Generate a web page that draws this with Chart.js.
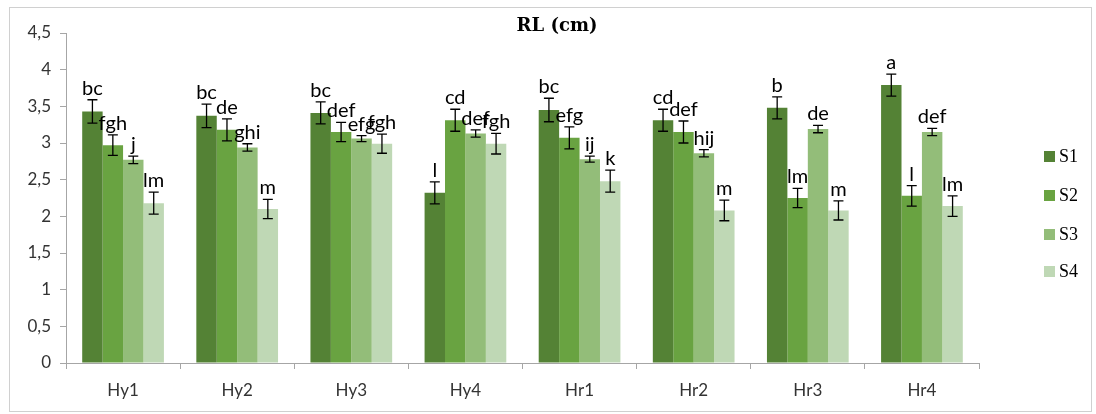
<!DOCTYPE html>
<html lang="fr">
<head>
  <meta charset="UTF-8" />
  <title>RL (cm)</title>
  <script src="https://cdn.jsdelivr.net/npm/chart.js"></script>
  <style>
    body {
      margin: 0;
      padding: 0;
      background: #ffffff;
    }
    #wrap {
      position: relative;
      width: 1096px;
      height: 414px;
    }
  </style>
</head>
<body>
  <div id="wrap">
    <canvas id="rlChart" width="1096" height="414"></canvas>
  </div>

  <script>
    // Données
    const categories = ['Hy1', 'Hy2', 'Hy3', 'Hy4', 'Hr1', 'Hr2', 'Hr3', 'Hr4'];
    const seriesNames = ['S1', 'S2', 'S3', 'S4'];

    const s1 = [3.43, 3.37, 3.41, 2.32, 3.45, 3.31, 3.48, 3.79];
    const s2 = [2.97, 3.18, 3.15, 3.31, 3.07, 3.15, 2.25, 2.28];
    const s3 = [2.77, 2.94, 3.06, 3.13, 2.78, 2.86, 3.19, 3.15];
    const s4 = [2.18, 2.10, 2.99, 2.99, 2.48, 2.08, 2.08, 2.14];

    const err1 = [0.16, 0.16, 0.15, 0.15, 0.16, 0.15, 0.15, 0.15];
    const err2 = [0.14, 0.15, 0.13, 0.15, 0.15, 0.15, 0.13, 0.14];
    const err3 = [0.05, 0.05, 0.04, 0.05, 0.04, 0.05, 0.05, 0.05];
    const err4 = [0.15, 0.13, 0.13, 0.14, 0.15, 0.14, 0.13, 0.14];

    const lettres1 = ['bc', 'bc', 'bc', 'l', 'bc', 'cd', 'b', 'a'];
    const lettres2 = ['fgh', 'de', 'def', 'cd', 'efg', 'def', 'lm', 'l'];
    const lettres3 = ['j', 'ghi', 'efg', 'def', 'ij', 'hij', 'de', 'def'];
    const lettres4 = ['lm', 'm', 'fgh', 'fgh', 'k', 'm', 'm', 'lm'];

    const yTicks = [0, 0.5, 1, 1.5, 2, 2.5, 3, 3.5, 4, 4.5];

    const couleurs = ['#548235', '#69a341', '#93bd79', '#bfd8b5'];
    const valeurs = [s1, s2, s3, s4];
    const erreurs = [err1, err2, err3, err4];
    const lettres = [lettres1, lettres2, lettres3, lettres4];

    // Barres d'erreur, lettres, titre, légende et cadre
    const decorPlugin = {
      id: 'decor',
      afterDatasetsDraw(chart) {
        const ctx = chart.ctx;
        const y = chart.scales.y;
        ctx.save();
        valeurs.forEach((serie, i) => {
          const meta = chart.getDatasetMeta(i);
          meta.data.forEach((bar, j) => {
            const haut = y.getPixelForValue(serie[j] + erreurs[i][j]);
            const bas = y.getPixelForValue(serie[j] - erreurs[i][j]);
            ctx.strokeStyle = '#000000';
            ctx.lineWidth = 1.3;
            ctx.beginPath();
            ctx.moveTo(bar.x, haut);
            ctx.lineTo(bar.x, bas);
            ctx.moveTo(bar.x - 5, haut);
            ctx.lineTo(bar.x + 5, haut);
            ctx.moveTo(bar.x - 5, bas);
            ctx.lineTo(bar.x + 5, bas);
            ctx.stroke();

            ctx.fillStyle = '#000000';
            ctx.font = '20px Lato';
            ctx.textAlign = 'center';
            ctx.textBaseline = 'alphabetic';
            ctx.fillText(lettres[i][j], bar.x, haut - 5);
          });
        });
        ctx.restore();
      },
      afterDraw(chart) {
        const ctx = chart.ctx;
        ctx.save();
        // cadre
        ctx.strokeStyle = '#d0d0d0';
        ctx.lineWidth = 1;
        ctx.strokeRect(9.5, 7.5, 1082, 404);

        // titre
        ctx.fillStyle = '#000000';
        ctx.font = 'bold 18px "DejaVu Serif"';
        ctx.textAlign = 'center';
        ctx.textBaseline = 'middle';
        ctx.fillText('RL (cm)', 557, 26);

        // légende
        const ys = [156, 195, 234, 271];
        seriesNames.forEach((nom, i) => {
          ctx.fillStyle = couleurs[i];
          ctx.fillRect(1044, ys[i] - 5, 11, 11);
          ctx.fillStyle = '#000000';
          ctx.font = '18px "Liberation Serif"';
          ctx.textAlign = 'left';
          ctx.textBaseline = 'middle';
          ctx.fillText(nom, 1059, ys[i] + 1);
        });
        ctx.restore();
      }
    };

    new Chart(document.getElementById('rlChart'), {
      type: 'bar',
      data: {
        labels: categories,
        datasets: seriesNames.map((nom, i) => ({
          label: nom,
          data: valeurs[i],
          backgroundColor: couleurs[i],
          borderWidth: 0,
          categoryPercentage: 0.716,
          barPercentage: 1.0
        }))
      },
      options: {
        responsive: false,
        animation: false,
        layout: {
          padding: { left: 0, top: 33, right: 117, bottom: 0 }
        },
        plugins: {
          legend: { display: false },
          title: { display: false },
          tooltip: { enabled: false }
        },
        scales: {
          x: {
            grid: {
              display: true,
              drawOnChartArea: false,
              offset: true,
              color: '#a6a6a6',
              tickLength: 6
            },
            border: { color: '#a6a6a6', width: 1 },
            ticks: {
              color: '#333333',
              font: { family: 'Lato', size: 17 },
              padding: 11
            },
            afterFit(scale) {
              scale.height = 51;
            }
          },
          y: {
            min: 0,
            max: 4.5,
            afterBuildTicks(scale) {
              scale.ticks = yTicks.map(v => ({ value: v }));
            },
            grid: {
              display: true,
              drawOnChartArea: false,
              color: '#a6a6a6',
              tickLength: 6
            },
            border: { color: '#a6a6a6', width: 1 },
            ticks: {
              color: '#333333',
              font: { family: 'Lato', size: 17 },
              padding: 9,
              callback: v => String(v).replace('.', ',')
            },
            afterFit(scale) {
              scale.width = 66;
            }
          }
        }
      },
      plugins: [decorPlugin]
    });
  </script>
</body>
</html>
